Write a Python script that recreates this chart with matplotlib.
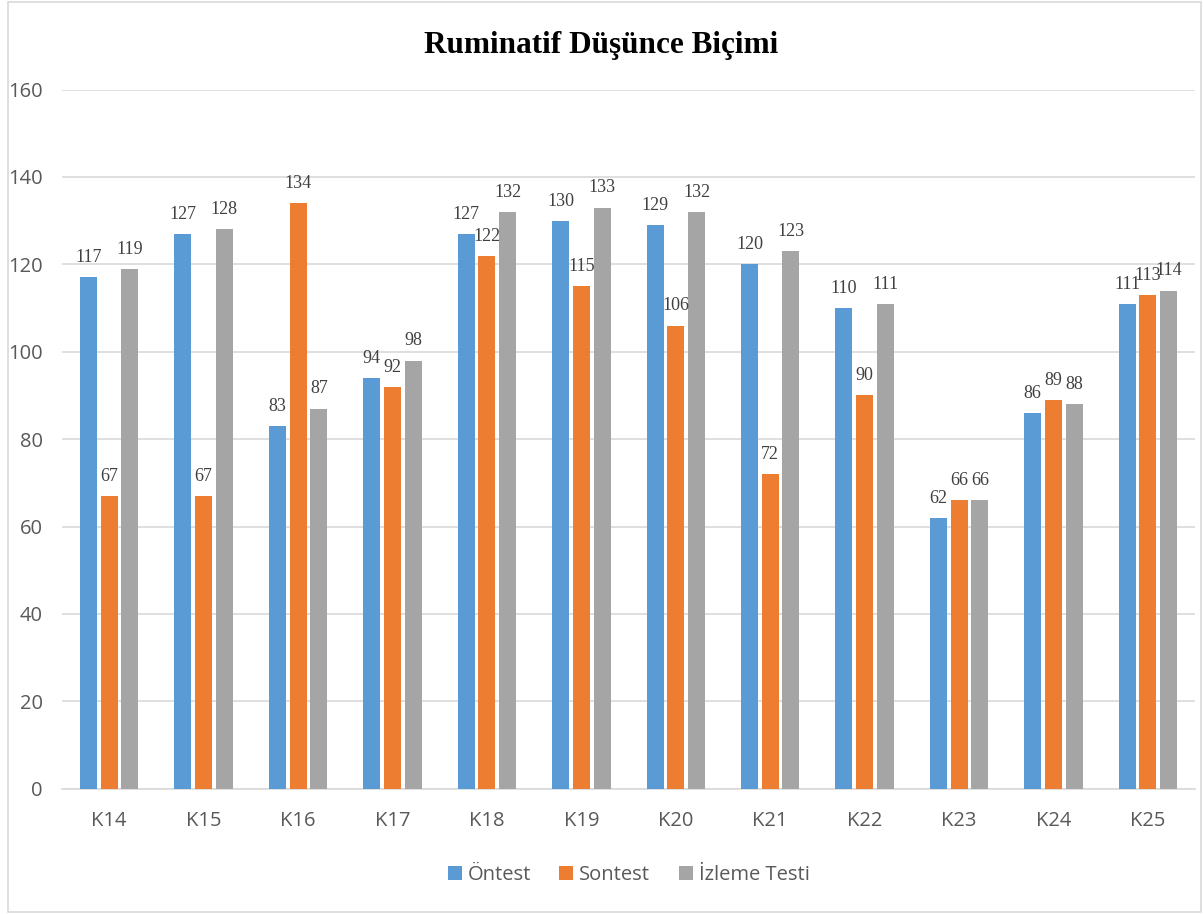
import matplotlib.pyplot as plt
import numpy as np
from matplotlib.patches import Rectangle

# katilimci kodlari ve uc olcumun puanlari
katilimcilar = ['K14', 'K15', 'K16', 'K17', 'K18', 'K19',
                'K20', 'K21', 'K22', 'K23', 'K24', 'K25']
ontest = [117, 127, 83, 94, 127, 130, 129, 120, 110, 62, 86, 111]
sontest = [67, 67, 134, 92, 122, 115, 106, 72, 90, 66, 89, 113]
izleme = [119, 128, 87, 98, 132, 133, 132, 123, 111, 66, 88, 114]

seriler = [('Öntest', ontest, '#5B9BD5'),
           ('Sontest', sontest, '#ED7D31'),
           ('İzleme Testi', izleme, '#A5A5A5')]

fig = plt.figure(figsize=(12.03, 9.14), dpi=100)
ax = fig.add_axes([0.0515, 0.137, 0.942, 0.765])

x = np.arange(len(katilimcilar))
genislik = 0.18
aralik = 0.22

for i, (ad, degerler, renk) in enumerate(seriler):
    konum = x + (i - 1) * aralik
    ax.bar(konum, degerler, width=genislik, color=renk, label=ad, zorder=3)
    for xi, v in zip(konum, degerler):
        ax.annotate(str(v), (xi, v), xytext=(0, 8), textcoords='offset points',
                    ha='center', va='bottom', fontsize=13,
                    family='Liberation Serif', color='#404040', zorder=4)

ax.set_xlim(-0.5, len(katilimcilar) - 0.5)
ax.set_ylim(0, 160)
ax.set_yticks(range(0, 161, 20))
ax.set_xticks(x)
ax.set_xticklabels(katilimcilar)
ax.grid(axis='y', color='#D9D9D9', linewidth=1.2, zorder=0)
for s in ['top', 'right', 'left']:
    ax.spines[s].set_visible(False)
ax.spines['bottom'].set_color('#D9D9D9')
ax.spines['bottom'].set_linewidth(1.2)
ax.tick_params(length=0, labelsize=14.5, labelcolor='#595959')
ax.tick_params(axis='x', pad=16)
ax.tick_params(axis='y', pad=14)
for lbl in ax.get_xticklabels() + ax.get_yticklabels():
    lbl.set_family('Open Sans')

fig.text(0.5, 0.95, 'Ruminatif Düşünce Biçimi', ha='center', va='center',
         fontsize=22.5, fontweight='bold', family='Liberation Serif', color='black')

ax.legend(loc='center', bbox_to_anchor=(0.5, -0.124), ncol=3, frameon=False,
          handlelength=0.7, handleheight=0.7, handletextpad=0.3, columnspacing=1.4,
          prop={'family': 'Open Sans', 'size': 14.5}, labelcolor='#595959')

# grafik alaninin cercevesi
fig.patches.append(Rectangle((0.007, 0.002), 0.991, 0.996, transform=fig.transFigure,
                             fill=False, edgecolor='#D9D9D9', linewidth=1.2))

fig.savefig('out.png', dpi=100)
